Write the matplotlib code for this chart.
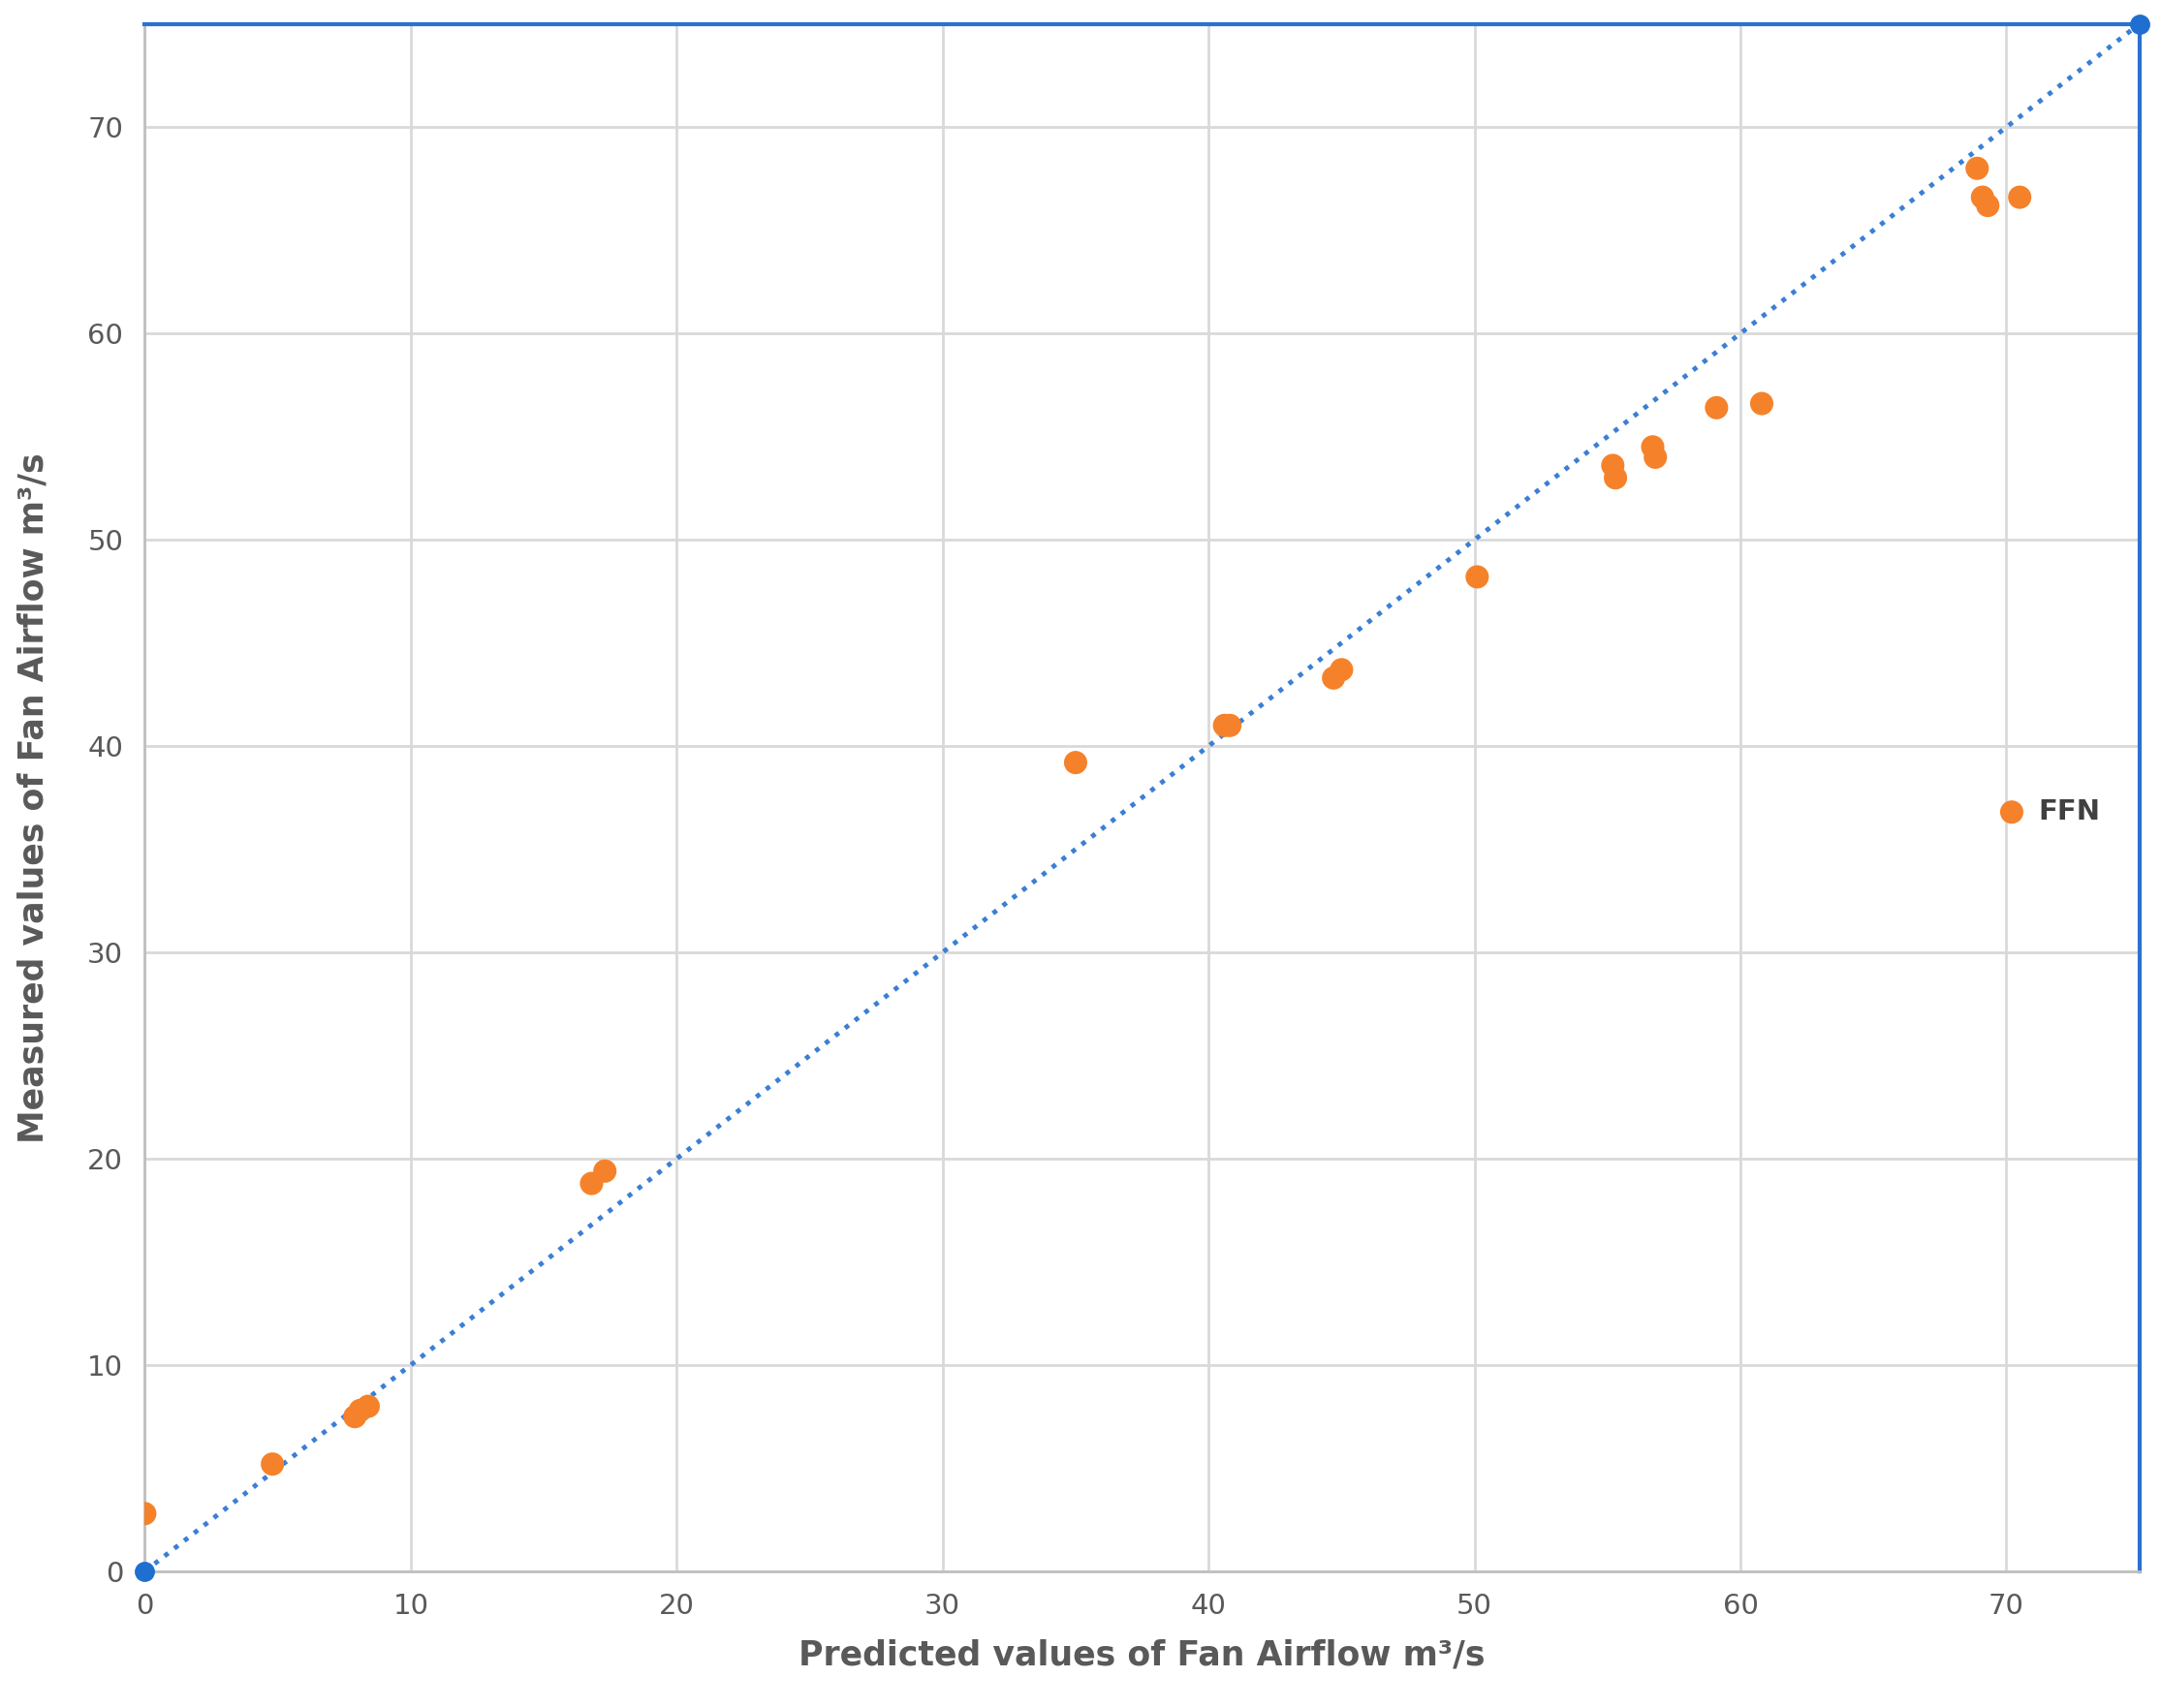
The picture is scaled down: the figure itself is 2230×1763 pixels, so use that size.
import matplotlib
matplotlib.use("Agg")
import matplotlib.pyplot as plt

plt.rcParams['font.family'] = ['DejaVu Sans']

predicted = [0, 4.8, 7.9, 8.1, 8.4, 16.8, 17.3, 35.0, 40.6, 40.8, 44.7, 45.0,
             50.1, 55.2, 55.3, 56.7, 56.8, 59.1, 60.8, 68.9, 69.1, 69.3, 70.5, 70.2]
measured = [2.8, 5.2, 7.5, 7.8, 8.0, 18.8, 19.4, 39.2, 41.0, 41.0, 43.3, 43.7,
            48.2, 53.6, 53.0, 54.5, 54.0, 56.4, 56.6, 68.0, 66.6, 66.2, 66.6, 36.8]
line_x = [0, 75]
line_y = [0, 75]
ticks = [0, 10, 20, 30, 40, 50, 60, 70]

fig = plt.figure(figsize=(22.30, 17.63), dpi=100)
ax = fig.add_axes([0.067, 0.080, 0.923, 0.906])

ax.scatter(predicted, measured, s=300, color='#f5822a', zorder=3, edgecolors='none')
ax.plot(line_x, line_y, ':', color='#3a7fd5', lw=3.5, zorder=2)
ax.plot(line_x, line_y, 'o', color='#1f6fd0', ms=14, zorder=4, clip_on=False)
ax.annotate('FFN', (70.2, 36.8), xytext=(20, 0), textcoords='offset points',
            va='center', fontsize=21, color='#404040', fontweight='bold')

ax.set_xlim(0, 75)
ax.set_ylim(0, 75)
ax.set_xticks(ticks)
ax.set_yticks(ticks)
ax.grid(True, color='#d9d9d9', lw=2)
ax.set_axisbelow(True)
for side in ['left', 'bottom']:
    ax.spines[side].set_color('#bfbfbf')
    ax.spines[side].set_linewidth(2)
for side in ['top', 'right']:
    ax.spines[side].set_color('#2b72d0')
    ax.spines[side].set_linewidth(3)
ax.tick_params(length=0, labelsize=21, labelcolor='#595959', pad=16)

ax.set_xlabel('Predicted values of Fan Airflow m³/s', fontsize=25, fontweight='bold',
              color='#595959', labelpad=14)
ax.set_ylabel('Measured values of Fan Airflow m³/s', fontsize=25, fontweight='bold',
              color='#595959', labelpad=28)

fig.savefig('out.png')
